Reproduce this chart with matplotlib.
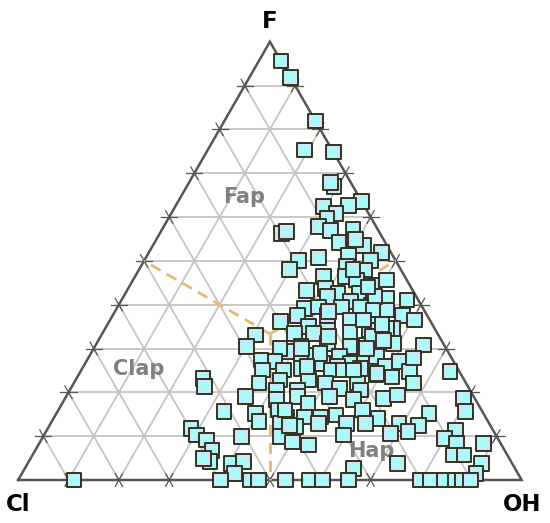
import matplotlib.pyplot as plt
import numpy as np

# apatite compositions, mol % (Cl = 100 - F - OH)
F = [95.6, 91.9, 81.9, 75.3, 74.8, 66.9, 67.8, 63.5, 62.7, 62.4,
     60.8, 59.7, 57.8, 57.0, 57.2, 56.3, 56.7, 54.2, 53.5, 54.8,
     51.9, 51.3, 50.0, 50.7, 50.0, 48.1, 48.7, 47.9, 46.4, 46.4,
     45.6, 45.6, 44.5, 43.3, 43.7, 42.6, 42.6, 41.4, 41.1, 39.9,
     40.7, 41.8, 39.2, 39.5, 39.5, 39.5, 38.8, 37.6, 36.5, 36.5,
     36.5, 37.6, 37.6, 36.1, 35.0, 34.2, 33.8, 34.2, 34.6, 33.5,
     33.5, 33.1, 30.4, 30.4, 31.2, 30.4, 30.8, 32.7, 31.2, 30.8,
     29.3, 30.0, 28.5, 28.1, 28.5, 27.4, 27.0, 27.0, 26.6, 26.6,
     28.1, 27.0, 25.9, 25.9, 24.7, 23.2, 21.3, 25.1, 25.1, 25.5,
     25.1, 25.5, 24.7, 22.1, 22.8, 22.8, 22.1, 20.9, 22.1, 24.0,
     22.1, 20.5, 20.5, 20.5, 19.0, 18.3, 19.0, 17.5, 19.0, 18.3,
     18.6, 19.4, 18.6, 15.6, 15.2, 16.0, 14.4, 14.4, 14.4, 14.8,
     16.0, 14.1, 15.6, 15.2, 12.5, 12.9, 13.3, 12.9, 12.2, 12.9,
     12.9, 12.9, 11.8, 10.3, 9.1, 6.8, 9.9, 9.9, 10.3, 10.6,
     11.0, 11.4, 9.5, 8.4, 8.4, 8.0, 8.7, 5.7, 5.7, 4.2,
     3.8, 4.2, 2.7, 3.8, 3.8, 1.5, 1.5,
     0, 0, 0, 0, 0, 0, 0, 0, 0, 0, 0, 0, 0, 0,
     41.8, 38.4, 38.8, 36.5, 34.6, 32.7, 32.7, 31.9, 28.9, 30.0,
     27.8, 25.9, 25.1, 25.1, 24.3, 30.0, 16.0, 4.9, 12.5, 48.0,
     44.0, 35.5, 23.5]
OH = [4.4, 8.1, 18.1, 19.2, 25.2, 29.3, 28.2, 36.5, 34.2, 29.5,
      32.7, 31.5, 30.8, 33.6, 37.9, 24.2, 24.9, 36.6, 41.9, 39.6,
      46.2, 39.9, 45.0, 34.3, 30.7, 29.9, 40.9, 44.8, 37.5, 41.7,
      44.4, 50.3, 47.9, 35.6, 39.2, 42.2, 46.4, 52.5, 56.7, 50.1,
      45.6, 40.5, 37.3, 39.9, 44.4, 48.3, 53.8, 57.6, 60.5, 52.2,
      47.7, 42.6, 36.7, 34.0, 40.1, 44.3, 49.0, 52.6, 57.0, 38.1,
      41.9, 30.6, 30.2, 41.0, 45.8, 50.7, 53.7, 55.1, 59.0, 65.1,
      38.8, 37.0, 44.7, 49.8, 54.5, 34.5, 37.5, 42.7, 47.1, 52.6,
      57.1, 62.2, 59.9, 50.5, 73.4, 25.1, 26.4, 36.0, 40.2, 43.4,
      49.6, 55.3, 65.4, 36.8, 40.6, 46.2, 50.0, 53.4, 56.3, 59.1,
      67.4, 41.1, 45.2, 57.8, 35.6, 42.2, 46.0, 48.8, 52.3, 57.5,
      63.2, 65.6, 79.2, 33.1, 39.5, 43.7, 46.2, 49.7, 52.8, 55.7,
      60.4, 64.4, 81.1, 74.0, 73.2, 69.2, 41.2, 45.6, 49.0, 53.2,
      58.8, 62.6, 28.4, 30.2, 32.9, 35.1, 39.4, 47.1, 59.4, 68.6,
      71.9, 81.1, 79.9, 82.9, 88.2, 53.6, 50.1, 83.6, 85.7, 36.0,
      40.4, 42.6, 65.3, 73.4, 90.1, 42.2, 90.2,
      11.1, 40.2, 46.1, 47.8, 53.1, 57.8, 60.4, 65.6, 79.8, 81.9,
      84.7, 86.8, 88.2, 89.9,
      50.0, 42.4, 51.1, 50.3, 55.9, 45.3, 53.9, 56.6, 45.5, 54.2,
      64.6, 44.4, 52.1, 54.0, 59.1, 41.3, 45.0, 34.3, 47.7, 42.5,
      47.5, 54.5, 62.5]

field_names = ["Fap", "Clap", "Hap"]
corner_names = ["F", "Cl", "OH"]


def cart(f, oh):
    f = np.asarray(f, dtype=float)
    oh = np.asarray(oh, dtype=float)
    return oh + f / 2.0, f


fig = plt.figure(figsize=(5.5, 5.23), dpi=100)
ax = fig.add_axes([0, 0, 1, 1])
ax.set_xlim(-0.0361, 1.0563)
ax.set_ylim(-0.0981, 1.0951)
ax.axis("off")

grid_c = "#c4c4c4"
tick_c = "#555555"
d = 0.016
for i in range(1, 10):
    t = i / 10.0
    # lines of constant F, OH and Cl (each as two end points in (F, OH))
    lines = [((t, 0), (t, 1 - t)),
             ((0, t), (1 - t, t)),
             ((1 - t, 0), (0, 1 - t))]
    for (f0, o0), (f1, o1) in lines:
        x, y = cart([f0, f1], [o0, o1])
        ax.plot(x, y, color=grid_c, lw=1.3, zorder=1)
        dx, dy = x[1] - x[0], y[1] - y[0]
        n = np.hypot(dx, dy)
        dx, dy = dx / n, dy / n
        for px, py in ((x[0], y[0]), (x[1], y[1])):
            ax.plot([px - d * dx, px + d * dx], [py - d * dy, py + d * dy],
                    color=tick_c, lw=0.9, zorder=2)

# triangle frame
tx, ty = cart([0, 1, 0, 0], [0, 0, 1, 0])
ax.plot(tx, ty, color="#555555", lw=1.8, zorder=2, solid_joinstyle="miter")

# field boundaries
c3 = 1 / 3.0
dash_c = "#e4bb6c"
for f_end, oh_end in ((0.5, 0.0), (0.5, 0.5), (0.0, 0.5)):
    x, y = cart([c3, f_end], [c3, oh_end])
    ax.plot(x, y, color=dash_c, lw=2.0, ls=(0, (4, 2.5)), zorder=2)

# field labels
for name, (lx, ly) in zip(field_names, [(0.4485, 0.633), (0.2385, 0.2396), (0.701, 0.053)]):
    ax.text(lx, ly, name, color="#808080", fontsize=15, fontweight="bold",
            family="DejaVu Sans", ha="center", va="baseline", zorder=3)

# corner labels
for name, (lx, ly) in zip(corner_names, [(0.5, 1.046), (0.0, -0.057), (1.0, -0.057)]):
    ax.text(lx, ly, name, color="black", fontsize=16.5, fontweight="bold",
            family="DejaVu Sans", ha="center", va="center", zorder=3)

# data points: outer lavender square with dark edge, cyan core
px, py = cart(np.array(F) / 100.0, np.array(OH) / 100.0)
n = len(px)
xs = np.repeat(px, 2)
ys = np.repeat(py, 2)
sizes = np.tile([112.0, 50.0], n)
faces = ["#d6dff6", "#a6fbfb"] * n
edges = ["#2f3522", "none"] * n
lws = np.tile([1.4, 0.0], n)
ax.scatter(xs, ys, s=sizes, marker="s", c=faces, edgecolors=edges,
           linewidths=lws, zorder=4, clip_on=False)

fig.savefig("out.png", dpi=100)
